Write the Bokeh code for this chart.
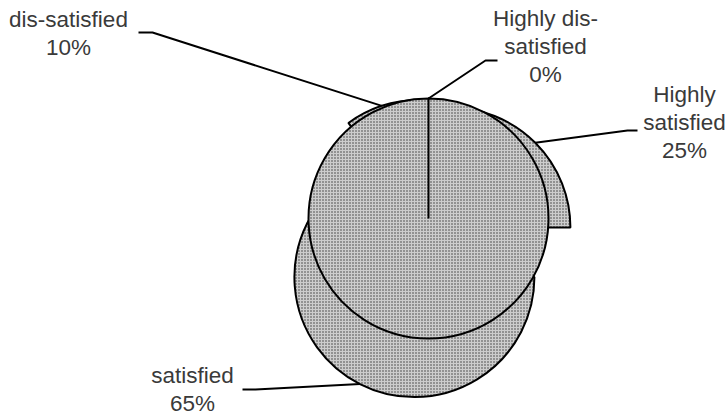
import numpy as np
from bokeh.plotting import figure
from bokeh.models import Range1d, ColumnDataSource
from bokeh.embed import file_html
from bokeh.resources import INLINE
from bokeh.core.properties import value

# Survey result: satisfaction levels
categories = ["Highly satisfied", "satisfied", "dis-satisfied", "Highly dis-satisfied"]
wrapped_names = ["Highly\nsatisfied", "satisfied", "dis-satisfied", "Highly dis-\nsatisfied"]
percent = [25, 65, 10, 0]

# Layout (screen pixels, y measured from the top)
W, H = 725, 418
CX, CY = 428, 249          # pie centre
R = 120                    # pie radius
EXPLODE = 31               # distance each slice is pulled out
label_pos = [(684, 122), (192, 389), (68, 33), (545, 46)]
elbows = [[(627, 130), (637, 130)],
          [(255, 389), (242, 389)],
          [(152, 32), (138, 32)],
          [(485, 60), (497, 60)]]


def to_data(px, py):
    return px, H - py


fracs = np.array(percent, dtype=float) / 100.0
starts = np.concatenate([[0.0], np.cumsum(fracs)[:-1]])
ends = starts + fracs
mids = (starts + ends) / 2.0

cx0, cy0 = to_data(CX, CY)
rows = dict(x=[], y=[], start=[], end=[], ax=[], ay=[])
for s, e, m in zip(starts, ends, mids):
    a_mid = np.pi / 2 - 2 * np.pi * m
    wx = cx0 + EXPLODE * np.cos(a_mid)
    wy = cy0 + EXPLODE * np.sin(a_mid)
    a_start = np.pi / 2 - 2 * np.pi * e
    a_end = np.pi / 2 - 2 * np.pi * s
    if e - s <= 0:
        # an empty slice is drawn by the spreadsheet as a whole disc
        a_end = a_start + 2 * np.pi - 1e-4
    rows["x"].append(wx)
    rows["y"].append(wy)
    rows["start"].append(a_start)
    rows["end"].append(a_end)
    rows["ax"].append(wx + R * np.cos(a_mid))
    rows["ay"].append(wy + R * np.sin(a_mid))

src = ColumnDataSource(rows)

p = figure(width=W, height=H, output_backend="svg", toolbar_location=None,
           x_range=Range1d(0, W), y_range=Range1d(0, H), min_border=0)
p.axis.visible = False
p.grid.visible = False
p.outline_line_color = None
p.background_fill_color = "white"
p.border_fill_color = "white"

p.wedge(x="x", y="y", radius=R, start_angle="start", end_angle="end",
        source=src, fill_color="#cdcdcd", line_color="black", line_width=2,
        hatch_pattern="dot", hatch_color="#383838", hatch_scale=3, hatch_weight=1)

# leader lines from each slice's outer arc to its label
for i in range(len(categories)):
    pts = [(rows["ax"][i], rows["ay"][i])] + [to_data(*q) for q in elbows[i]]
    p.line([q[0] for q in pts], [q[1] for q in pts], line_color="black", line_width=2)

texts = [f"{n}\n{v}%" for n, v in zip(wrapped_names, percent)]
lx = [to_data(*q)[0] for q in label_pos]
ly = [to_data(*q)[1] for q in label_pos]
p.text(x=lx, y=ly, text=texts, text_align="center", text_baseline="middle",
       text_font=value("Liberation Sans"), text_font_size="22.5px",
       text_color="#3a3a3a", text_line_height=1.12)

open("out.html", "w").write(file_html(p, INLINE))
